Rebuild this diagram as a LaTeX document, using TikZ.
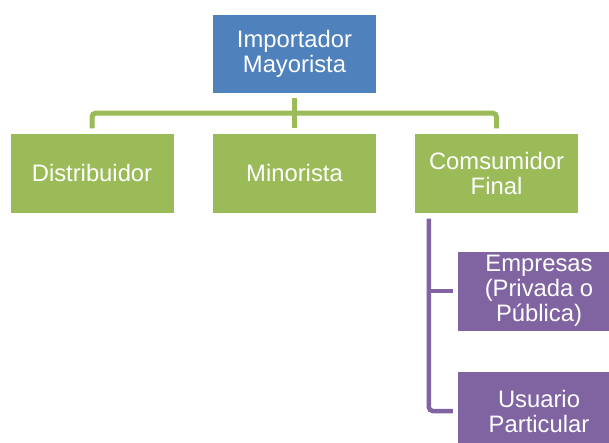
\documentclass[tikz,border=0pt]{standalone}
\usepackage{fontspec}
\setmainfont{Liberation Sans}
\definecolor{cblue}{HTML}{4F81BD}
\definecolor{cgreen}{HTML}{9BBB59}
\definecolor{cpurple}{HTML}{8064A2}
\begin{document}
\begin{tikzpicture}[x=1pt,y=-1pt,
  box/.style={rectangle, inner sep=0pt, align=center, text=white,
    font=\fontsize{23.8}{25}\selectfont},
  bluebox/.style={box, fill=cblue, minimum width=163pt, minimum height=78pt},
  greenbox/.style={box, fill=cgreen, minimum width=163pt, minimum height=79pt},
  purplebox/.style={box, fill=cpurple, minimum width=162pt, minimum height=79pt},
  gline/.style={draw=cgreen, line width=5pt, rounded corners=4pt},
  pline/.style={draw=cpurple, line width=4.5pt, rounded corners=4pt}]
\path[use as bounding box, fill=white] (0,0) rectangle (609,442);
\begin{scope}
\clip (0,0) rectangle (609,442);
\node[bluebox] (top) at (294.5,54) {Importador\\Mayorista};
\node[greenbox] (dist) at (92,173) {Distribuidor};
\node[greenbox] (mino) at (294.5,173) {Minorista};
\node[greenbox] (cons) at (496.5,173) {Comsumidor\\Final};
\node[purplebox] (emp) at (539,291) {Empresas\\(Privada o\\Pública)};
\node[purplebox] (usu) at (539,411) {Usuario\\Particular};
\end{scope}
\coordinate (hb) at (0,113);
\draw[gline, shorten <=5pt, shorten >=5pt] (top.south) -- (mino.north);
\draw[gline, shorten <=5pt, shorten >=5pt] (dist.north) |- (hb -| top.south) -| (cons.north);
\coordinate (pv) at ([xshift=14pt]cons.south west);
\draw[pline, shorten <=6pt, shorten >=5pt] (pv) |- (usu.west);
\draw[pline, shorten >=5pt] (pv |- emp.west) -- (emp.west);
\end{tikzpicture}
\end{document}
